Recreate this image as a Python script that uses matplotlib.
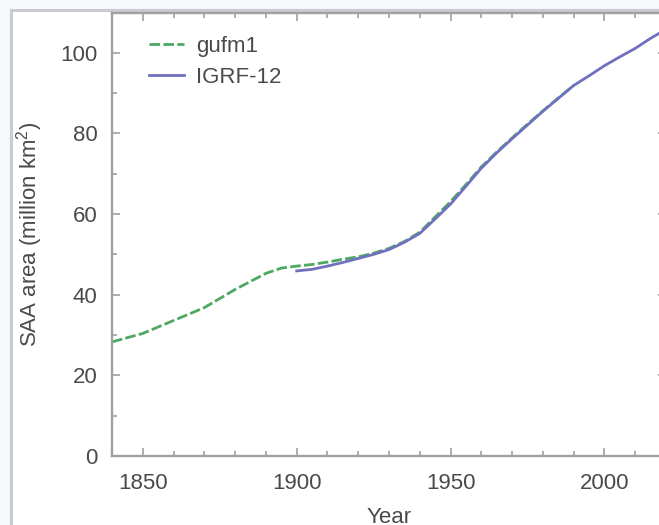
import matplotlib
matplotlib.use("Agg")
import matplotlib.pyplot as plt
from matplotlib.patches import Rectangle
from matplotlib.ticker import MultipleLocator

plt.rcParams["font.family"] = ["Liberation Sans", "DejaVu Sans"]
plt.rcParams["mathtext.fontset"] = "custom"
plt.rcParams["mathtext.rm"] = "Liberation Sans"
plt.rcParams["mathtext.it"] = "Liberation Sans:italic"

# gufm1 model (1840-1990)
gufm1_years = [1840, 1850, 1860, 1870, 1880, 1890, 1895, 1900, 1905, 1910, 1915, 1920,
               1925, 1930, 1935, 1940, 1945, 1950, 1955, 1960, 1965, 1970, 1975, 1980,
               1985, 1990]
gufm1_area = [28.3, 30.4, 33.6, 36.8, 41.3, 45.3, 46.6, 47.1, 47.5, 48.1, 48.8, 49.4,
              50.3, 51.5, 53.2, 55.5, 59.3, 63.1, 67.3, 71.7, 75.4, 78.9, 82.3, 85.6,
              88.8, 91.9]

# IGRF-12 (1900-2020)
igrf_years = [1900, 1905, 1910, 1915, 1920, 1925, 1930, 1935, 1940, 1945, 1950, 1955,
              1960, 1965, 1970, 1975, 1980, 1985, 1990, 1995, 2000, 2005, 2010, 2015,
              2020]
igrf_area = [45.9, 46.3, 47.1, 48.0, 49.0, 50.0, 51.2, 53.0, 55.2, 58.8, 62.5, 66.9,
             71.4, 75.2, 78.7, 82.1, 85.5, 88.7, 91.9, 94.3, 96.8, 99.0, 101.1, 103.6,
             105.8]

W, H = 659, 525
fig = plt.figure(figsize=(W / 100, H / 100), dpi=100, facecolor="#f7f8fa")
# white card with a grey frame, behind the axes
fig.patches.append(Rectangle((10.5 / W, -0.1), 1.2, (H - 9.5) / H + 0.1,
                             transform=fig.transFigure, facecolor="white",
                             edgecolor="#c8ccd2", linewidth=2.2, zorder=-10))

ax = fig.add_axes([112 / W, (H - 456) / H, 554 / W, 443.5 / H])
ax.set_facecolor("white")

ax.plot(gufm1_years, gufm1_area, color="#4da862", lw=2.0, dashes=(3.8, 1.2),
        label="gufm1", zorder=2)
ax.plot(igrf_years, igrf_area, color="#7070c0", lw=2.0, label="IGRF-12", zorder=3)

ax.set_xlim(1840, 2020)
ax.set_ylim(0, 110)
ax.xaxis.set_major_locator(MultipleLocator(50))
ax.xaxis.set_minor_locator(MultipleLocator(10))
ax.yaxis.set_major_locator(MultipleLocator(20))
ax.yaxis.set_minor_locator(MultipleLocator(10))

grey = "#a0a0a0"
for s in ax.spines.values():
    s.set_color(grey)
    s.set_linewidth(1.7)
ax.tick_params(which="both", direction="in", top=True, right=True, color=grey,
               width=1.2, labelcolor="#4a4a4a", labelsize=16)
ax.tick_params(which="major", length=6)
ax.tick_params(which="minor", length=3.6)
ax.tick_params(axis="x", pad=12.5)
ax.tick_params(axis="y", pad=10.5)

ax.set_xlabel("Year", fontsize=16, color="#4a4a4a", labelpad=9)
ax.set_ylabel(r"SAA area (million km$^2$)", fontsize=16, color="#4a4a4a",
              labelpad=11)

ax.legend(loc="upper left", bbox_to_anchor=(0.066, 0.948), frameon=False,
          fontsize=16, handlelength=1.6, handletextpad=0.55, labelspacing=0.45,
          borderpad=0, borderaxespad=0, labelcolor="#4a4a4a")

fig.savefig("out.png", dpi=100, facecolor=fig.get_facecolor())
